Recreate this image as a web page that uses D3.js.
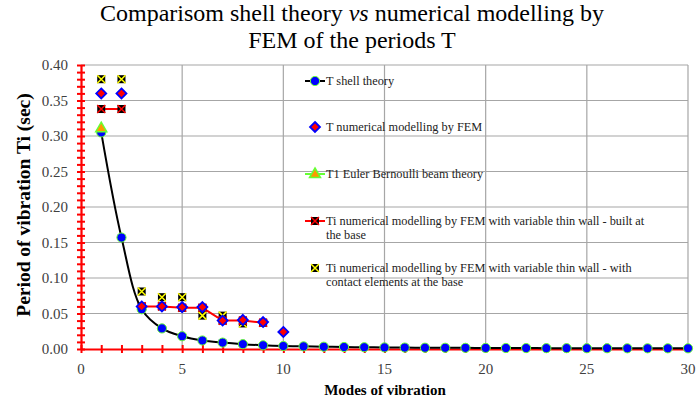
<!DOCTYPE html>
<html>
<head>
<meta charset="utf-8">
<script src="https://d3js.org/d3.v7.min.js"></script>
<style>
  body { margin: 0; background: #fff; }
</style>
</head>
<body>
<svg width="696" height="402"></svg>
<script>
// modes of vibration
var modes = d3.range(1, 31);
// T shell theory (sec)
var shellT = [0.305, 0.157, 0.056, 0.029, 0.018, 0.012, 0.009, 0.0068, 0.0052, 0.0042,
  0.0037, 0.0032, 0.0028, 0.0025, 0.0022, 0.002, 0.0018, 0.0017, 0.0016, 0.0015,
  0.0014, 0.0013, 0.0012, 0.0012, 0.0011, 0.0011, 0.001, 0.001, 0.001, 0.001];
// T numerical modelling by FEM
var femModes = [1, 2, 3, 4, 5, 6, 7, 8, 9, 10];
var femT = [0.36, 0.36, 0.060, 0.060, 0.059, 0.059, 0.040, 0.041, 0.038, 0.024];
// T1 Euler Bernoulli beam theory
var eulerModes = [1];
var eulerT = [0.311];
// Ti FEM variable thin wall - built at the base (null = gap in line)
var builtModes = [1, 2, 2.5, 3, 4, 5, 6, 7, 8, 9];
var builtT = [0.338, 0.338, null, 0.060, 0.060, 0.058, 0.058, 0.040, 0.040, 0.037];
// Ti FEM variable thin wall - contact elements at the base
var contactModes = [1, 2, 3, 4, 5, 6, 7, 8];
var contactT = [0.380, 0.380, 0.081, 0.073, 0.073, 0.047, 0.047, 0.036];

var xTicks = [0, 5, 10, 15, 20, 25, 30];
var yTicks = [0, 0.05, 0.10, 0.15, 0.20, 0.25, 0.30, 0.35, 0.40];

var legendLabels = [
  ["T shell theory"],
  ["T numerical modelling by FEM"],
  ["T1 Euler Bernoulli beam theory"],
  ["Ti numerical modelling by FEM with variable thin wall - built at", "the base"],
  ["Ti numerical modelling by FEM with variable thin wall - with", "contact elements at the base"]
];

var FONT = "Liberation Serif";
var svg = d3.select("svg");
var pLeft = 81, pRight = 688, pTop = 65, pBottom = 349;

var x = d3.scaleLinear().domain([0, 30]).range([pLeft, pRight]);
var y = d3.scaleLinear().domain([0, 0.4]).range([pBottom, pTop]);

// title
var title = svg.append("text")
  .attr("x", 352).attr("y", 21)
  .attr("text-anchor", "middle")
  .attr("font-family", FONT)
  .attr("font-size", "24px")
  .attr("fill", "#000");
title.append("tspan").text("Comparisom shell theory ");
title.append("tspan").attr("font-style", "italic").text("vs");
title.append("tspan").text(" numerical modelling by");
svg.append("text")
  .attr("x", 352).attr("y", 48)
  .attr("text-anchor", "middle")
  .attr("font-family", FONT)
  .attr("font-size", "24px")
  .text("FEM of the periods T");

// grid
var grid = svg.append("g").attr("stroke", "#a6a6a6").attr("stroke-width", 1.2);
grid.selectAll(".hg").data(yTicks.slice(1)).enter().append("line")
  .attr("x1", pLeft).attr("x2", pRight)
  .attr("y1", function(d) { return y(d); }).attr("y2", function(d) { return y(d); });
grid.selectAll(".vg").data(xTicks.slice(1)).enter().append("line")
  .attr("y1", pTop).attr("y2", pBottom)
  .attr("x1", function(d) { return x(d); }).attr("x2", function(d) { return x(d); });

// axes (red, ticks crossing)
var yAxis = svg.append("g")
  .attr("transform", "translate(" + pLeft + ",0)")
  .call(d3.axisLeft(y).tickValues(d3.range(0, 0.401, 0.01)).tickSize(4).tickSizeOuter(0).tickFormat(""));
var xAxis = svg.append("g")
  .attr("transform", "translate(0," + pBottom + ")")
  .call(d3.axisBottom(x).tickValues(d3.range(0, 31, 1)).tickSize(4).tickSizeOuter(0).tickFormat(""));
[yAxis, xAxis].forEach(function(a) {
  a.select(".domain").attr("stroke", "#ff0000").attr("stroke-width", 2.2);
  a.selectAll(".tick line").attr("stroke", "#ff0000").attr("stroke-width", 2);
});
yAxis.selectAll(".tick line").attr("x1", 4).attr("x2", -4);
xAxis.selectAll(".tick line").attr("y1", -4).attr("y2", 4);

// tick labels
svg.selectAll(".yl").data(yTicks).enter().append("text")
  .attr("x", 68).attr("y", function(d) { return y(d) + 5; })
  .attr("text-anchor", "end").attr("font-family", FONT).attr("font-size", "15px").attr("fill", "#404040")
  .text(function(d) { return d3.format(".2f")(d); });
svg.selectAll(".xl").data(xTicks).enter().append("text")
  .attr("x", function(d) { return x(d); }).attr("y", 374)
  .attr("text-anchor", "middle").attr("font-family", FONT).attr("font-size", "15px").attr("fill", "#404040")
  .text(function(d) { return d; });

// axis titles
svg.append("text")
  .attr("transform", "translate(30,205) rotate(-90)")
  .attr("text-anchor", "middle").attr("font-family", FONT).attr("font-size", "19.5px").attr("font-weight", "bold")
  .text("Period of vibration Ti (sec)");
svg.append("text")
  .attr("x", 385).attr("y", 395)
  .attr("text-anchor", "middle").attr("font-family", FONT).attr("font-size", "15px").attr("font-weight", "bold")
  .text("Modes of vibration");

// marker helpers
function circleMark(g, cx, cy) {
  g.append("circle").attr("cx", cx).attr("cy", cy).attr("r", 4.6)
    .attr("fill", "#0000ff").attr("stroke", "#66ff33").attr("stroke-width", 1);
}
function diamondMark(g, cx, cy) {
  g.append("path").attr("d", "M" + cx + "," + (cy - 5) + "L" + (cx + 5) + "," + cy + "L" + cx + "," + (cy + 5) + "L" + (cx - 5) + "," + cy + "Z")
    .attr("fill", "#ff0000").attr("stroke", "#0000ff").attr("stroke-width", 1.8);
}
function triMark(g, cx, cy) {
  g.append("path").attr("d", "M" + cx + "," + (cy - 6) + "L" + (cx + 5.5) + "," + (cy + 3.5) + "L" + (cx - 5.5) + "," + (cy + 3.5) + "Z")
    .attr("fill", "#ff9900").attr("stroke", "#66ff33").attr("stroke-width", 1.5);
}
function squareMark(g, cx, cy, xc) {
  g.append("rect").attr("x", cx - 4).attr("y", cy - 4).attr("width", 8).attr("height", 8)
    .attr("fill", "#000");
  g.append("path").attr("d", "M" + (cx - 4) + "," + (cy - 4) + "L" + (cx + 4) + "," + (cy + 4) + "M" + (cx + 4) + "," + (cy - 4) + "L" + (cx - 4) + "," + (cy + 4))
    .attr("stroke", xc).attr("stroke-width", 1.5);
}

var plot = svg.append("g");

// contact elements series (markers only)
contactModes.forEach(function(m, i) { squareMark(plot, x(m), y(contactT[i]), "#ffff00"); });

// built at base series (red line)
var builtPts = builtModes.map(function(m, i) { return [m, builtT[i]]; });
plot.append("path")
  .datum(builtPts)
  .attr("fill", "none").attr("stroke", "#ff0000").attr("stroke-width", 2)
  .attr("d", d3.line().defined(function(d) { return d[1] !== null; })
    .x(function(d) { return x(d[0]); }).y(function(d) { return y(d[1]); }));
builtPts.forEach(function(d) { if (d[1] !== null) squareMark(plot, x(d[0]), y(d[1]), "#ff0000"); });

// shell theory (smoothed black line)
plot.append("path")
  .datum(modes.map(function(m, i) { return [m, shellT[i]]; }))
  .attr("fill", "none").attr("stroke", "#000").attr("stroke-width", 2)
  .attr("d", d3.line().curve(d3.curveCatmullRom.alpha(0.5))
    .x(function(d) { return x(d[0]); }).y(function(d) { return y(d[1]); }));
modes.forEach(function(m, i) { circleMark(plot, x(m), y(shellT[i])); });

// FEM diamonds
femModes.forEach(function(m, i) { diamondMark(plot, x(m), y(femT[i])); });

// Euler Bernoulli
eulerModes.forEach(function(m, i) { triMark(plot, x(m), y(eulerT[i])); });

// legend
var legY = [81, 127, 174, 221, 268];
var lg = svg.append("g");
var lx = 315;
lg.append("line").attr("x1", lx - 10).attr("x2", lx + 10).attr("y1", legY[0]).attr("y2", legY[0])
  .attr("stroke", "#000").attr("stroke-width", 2);
circleMark(lg, lx, legY[0]);
diamondMark(lg, lx, legY[1]);
lg.append("line").attr("x1", lx - 10).attr("x2", lx + 10).attr("y1", legY[2]).attr("y2", legY[2])
  .attr("stroke", "#66ff33").attr("stroke-width", 2);
triMark(lg, lx, legY[2]);
lg.append("line").attr("x1", lx - 10).attr("x2", lx + 10).attr("y1", legY[3]).attr("y2", legY[3])
  .attr("stroke", "#ff0000").attr("stroke-width", 2);
squareMark(lg, lx, legY[3], "#ff0000");
squareMark(lg, lx, legY[4], "#ffff00");

legendLabels.forEach(function(lines, i) {
  var t = lg.append("text").attr("x", 326).attr("y", legY[i] + 3.8)
    .attr("font-family", FONT).attr("font-size", "12.3px").attr("fill", "#222");
  lines.forEach(function(s, j) {
    t.append("tspan").attr("x", 326).attr("dy", j === 0 ? 0 : 14.5).text(s);
  });
});
</script>
</body>
</html>
